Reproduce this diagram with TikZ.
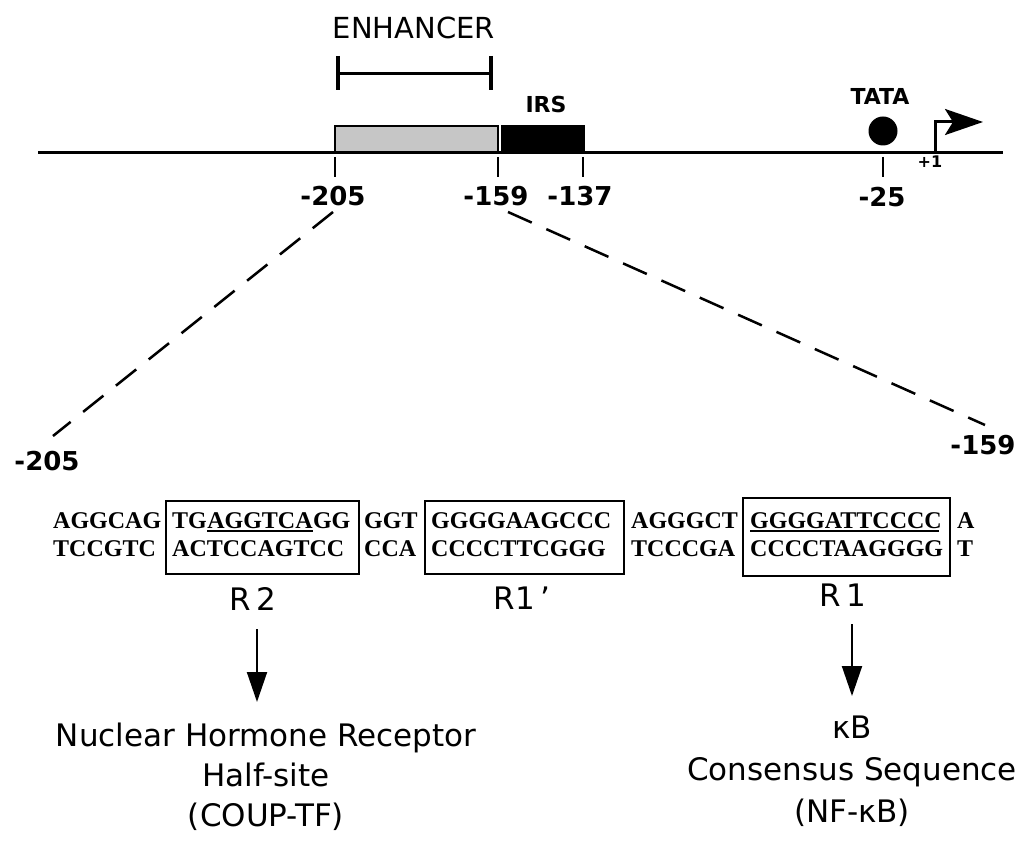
\documentclass[tikz,border=0pt]{standalone}
\usepackage{fontspec}
\setmainfont{DejaVu Sans}
\newfontfamily\seqfont{Liberation Serif}
\newfontfamily\lblfont{DejaVu Sans}
\usetikzlibrary{arrows.meta}
\tikzset{
  lbl/.style={font=\lblfont\bfseries\fontsize{26}{28}\selectfont, inner sep=0pt},
  small/.style={font=\lblfont\bfseries\fontsize{22}{24}\selectfont, inner sep=0pt},
  seq/.style={font=\seqfont\bfseries\fontsize{24}{26}\selectfont, inner sep=0pt, anchor=base west},
  big/.style={font=\fontsize{31}{35}\selectfont, inner sep=0pt, anchor=base},
  rlab/.style={font=\fontsize{31}{32}\selectfont, inner sep=0pt},
  tick/.style={line width=2.5pt},
  dna/.style={line width=3pt},
  dash2/.style={line width=2.5pt, dash pattern=on 26pt off 16pt},
  sbox/.style={draw, line width=1.8pt},
  uline/.style={line width=1.6pt},
  down/.style={line width=2pt, -{Triangle[width=20pt,length=30pt]}},
}
\begin{document}
\begin{tikzpicture}[x=1pt,y=-1pt]
\useasboundingbox (0,0) rectangle (1018,842);
% DNA line
\draw[dna] (38,153) -- (1003,153);
% enhancer bar
\node[lbl, font=\lblfont\fontsize{29}{30}\selectfont] (enh) at (414,28) {ENHANCER};
\draw[line width=3pt] (338,74) -- (491,74);
\draw[line width=4pt] (338,56) -- (338,90);
\draw[line width=4pt] (491,56) -- (491,90);
% boxes
\node[draw, line width=2pt, fill=gray!45, minimum width=163pt, minimum height=26pt, inner sep=0pt, anchor=south west] (enhbox) at (334,153) {};
\node[fill=black, minimum width=84pt, minimum height=28pt, inner sep=0pt, anchor=south west] (irsbox) at (501,153) {};
\node[small] (irs) at (546,104) {IRS};
% ticks
\draw[tick] (335,157) -- (335,177);
\draw[tick] (498,157) -- (498,177);
\draw[tick] (583,157) -- (583,177);
\draw[tick] (883,157) -- (883,177);
\node[lbl] (m205) at (333,196) {-205};
\node[lbl] (m159) at (496,196) {-159};
\node[lbl] (m137) at (580,196) {-137};
\node[lbl] (m25) at (882,197) {-25};
% TATA
\node[circle, fill=black, minimum size=29pt, inner sep=0pt] (tata) at (883,131) {};
\node[small] (tatal) at (880,96) {TATA};
\node[small, font=\lblfont\bfseries\fontsize{16}{17}\selectfont] (p1) at (930,162) {+1};
\coordinate (ts) at (935,153);
\coordinate (te) at (983,122);
\draw[line width=3pt, -{Stealth[width=26pt,length=38pt,inset=8pt]}] (ts) |- (te);
% dashed zoom lines
\coordinate (d1) at (53,436);
\coordinate (d2) at (985,425);
\draw[dash2] (333,212) -- (d1);
\draw[dash2] (508,212) -- (d2);
\node[lbl] (l205) at (47,461) {-205};
\node[lbl] (l159) at (983,445) {-159};
% sequence
\def\ya{528}\def\yb{556}
\node[seq] (s1a) at (53,\ya) {AGGCAG};
\node[seq] (s1b) at (53,\yb) {TCCGTC};
\node[seq] (s2a) at (172,\ya) {TG};
\node[seq] (s2u) at (s2a.base east) {AGGTCA};
\node[seq] (s2c) at (s2u.base east) {GG};
\node[seq] (s2b) at (172,\yb) {ACTCCAGTCC};
\node[seq] (s3a) at (364,\ya) {GGT};
\node[seq] (s3b) at (364,\yb) {CCA};
\node[seq] (s4a) at (431,\ya) {GGGGAAGCCC};
\node[seq] (s4b) at (431,\yb) {CCCCTTCGGG};
\node[seq] (s5a) at (631,\ya) {AGGGCT};
\node[seq] (s5b) at (631,\yb) {TCCCGA};
\node[seq] (s6a) at (750,\ya) {GGGGATTCCCC};
\node[seq] (s6b) at (750,\yb) {CCCCTAAGGGG};
\node[seq] (s7a) at (957,\ya) {A};
\node[seq] (s7b) at (957,\yb) {T};
% boxes around sites
\draw[sbox] (166,501) rectangle (359,574);
\draw[sbox] (425,501) rectangle (624,574);
\draw[sbox] (743,498) rectangle (950,576);
% underlines
\draw[uline] ([yshift=-3pt]s2u.base west) -- ([yshift=-3pt]s2u.base east);
\draw[uline] ([yshift=-3pt]s6a.base west) -- ([yshift=-3pt,xshift=-3pt]s6a.base east);
% site labels
\node[rlab] (r2) at (253,599) {R\,2};
\node[rlab] (r1p) at (522,598) {R1\,'};
\node[rlab] (r1) at (843,595) {R\,1};
% arrow ends
\coordinate (a2s) at (257,629);
\coordinate (a1s) at (852,624);
\coordinate (a2e) at (257,702);
\coordinate (a1e) at (852,696);
\draw[down] (a2s) -- (a2e);
\draw[down] (a1s) -- (a1e);
% descriptions
\node[big] (nhr1) at (266,746) {Nuclear Hormone Receptor};
\node[big] (nhr2) at (266,786) {Half-site};
\node[big] (nhr3) at (266,826) {(COUP-TF)};
\node[big] (kb1) at (852,738) {κB};
\node[big] (kb2) at (852,780) {Consensus Sequence};
\node[big] (kb3) at (852,822) {(NF-κB)};
\end{tikzpicture}
\end{document}
